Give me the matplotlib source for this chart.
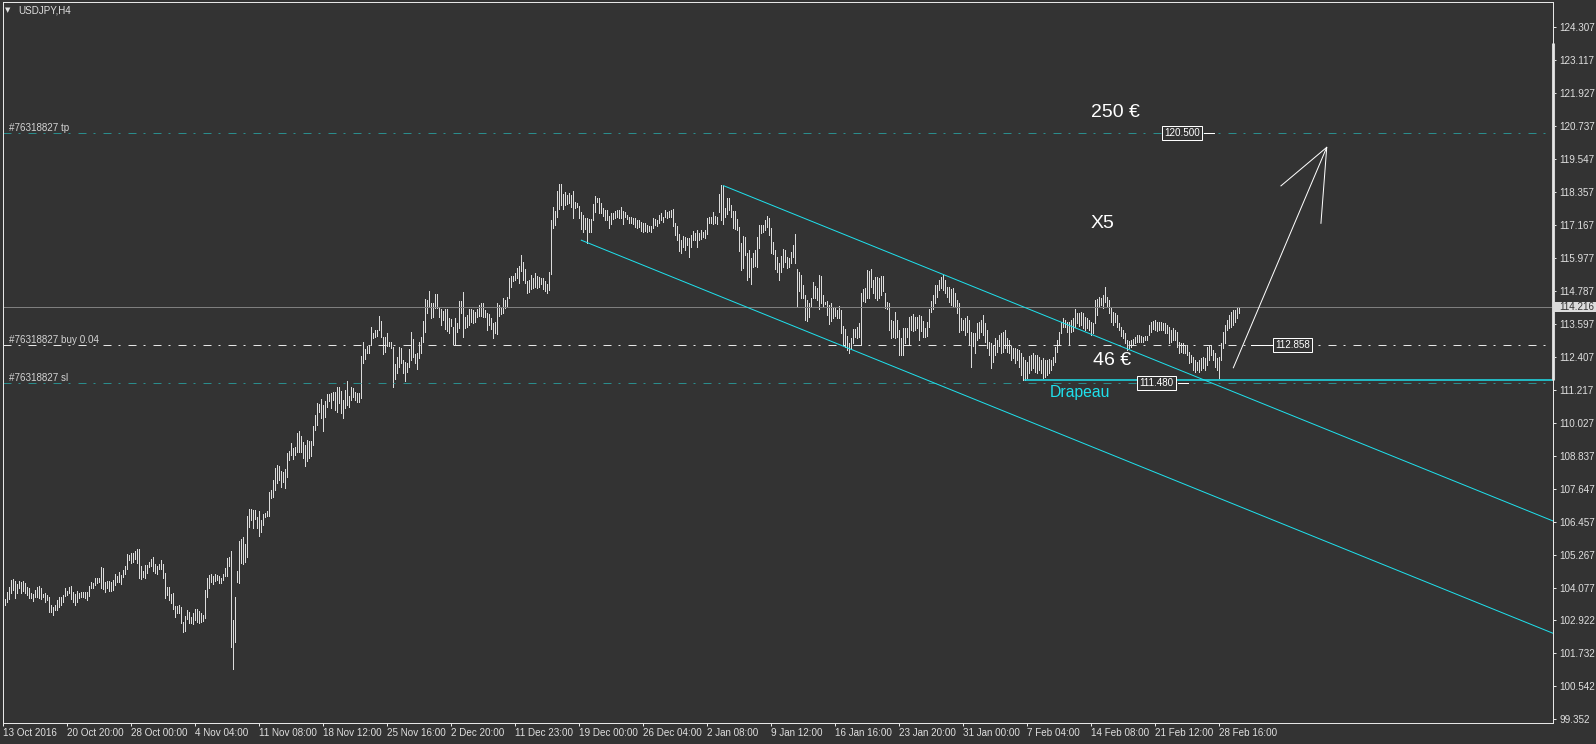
import matplotlib.pyplot as plt
import numpy as np
from matplotlib.patches import Rectangle
from matplotlib.transforms import blended_transform_factory

symbol = "USDJPY,H4"

# H4 bars, high / low
bar_high = [
    103.69, 103.69, 103.93, 104.13, 104.36, 104.41, 104.34, 104.23, 104.34, 104.29,
    104.34, 104.26, 104.11, 104.07, 103.89, 103.86, 104.01, 104.11, 104.16, 104.07,
    103.87, 103.89, 103.83, 103.75, 103.47, 103.41, 103.47, 103.65, 103.75, 103.77,
    103.83, 104.07, 103.99, 104.13, 104.16, 103.95, 103.86, 103.98, 103.89, 103.93,
    103.94, 103.95, 103.94, 104.16, 104.32, 104.28, 104.44, 104.45, 104.45, 104.83,
    104.80, 104.32, 104.34, 104.34, 104.29, 104.37, 104.58, 104.52, 104.65, 104.56,
    104.74, 104.88, 105.31, 105.28, 105.34, 105.36, 105.41, 105.48, 105.49, 104.89,
    104.71, 104.90, 104.92, 105.04, 105.12, 105.19, 104.94, 104.88, 104.95, 105.10,
    104.95, 104.62, 104.11, 104.13, 103.87, 103.92, 103.44, 103.44, 103.47, 103.39,
    102.87, 103.08, 103.29, 103.21, 103.03, 103.20, 103.32, 103.32, 103.27, 103.20,
    103.11, 104.01, 104.44, 104.56, 104.59, 104.52, 104.58, 104.56, 104.53, 104.44,
    104.59, 104.80, 105.16, 105.22, 105.43, 102.93, 103.75, 104.70, 105.78, 105.84,
    105.91, 105.67, 106.68, 106.92, 106.92, 106.90, 106.90, 106.66, 106.86, 106.54,
    106.76, 106.80, 106.86, 107.55, 107.62, 107.98, 108.40, 108.52, 108.50, 108.32,
    108.28, 108.38, 108.97, 109.03, 109.33, 109.12, 109.18, 109.69, 109.75, 109.57,
    109.36, 109.24, 109.42, 109.39, 109.39, 109.94, 110.33, 110.75, 110.72,
    110.89, 110.69, 110.84, 111.08, 111.08, 111.11, 111.17, 111.17, 111.35, 111.32,
    111.20, 110.87, 111.23, 111.56, 111.02, 111.35, 111.29, 111.17, 111.11, 111.11,
    112.45, 112.95, 112.71, 112.83, 112.85, 113.51, 113.30, 113.39, 113.39, 113.91,
    113.72, 113.15, 113.15, 113.30, 112.97, 112.97, 112.79, 112.17, 112.41, 112.79,
    112.73, 112.31, 112.25, 112.19, 112.71, 113.31, 113.07, 112.51, 112.55, 112.97,
    113.15, 113.72, 114.51, 114.47, 114.80, 114.35, 114.35, 114.69, 114.68, 114.20,
    114.15, 114.08, 114.14, 114.14, 113.81, 113.79, 113.51, 113.81, 113.66, 114.44,
    114.44, 114.76, 113.87, 113.93, 114.14, 114.15, 114.11, 114.05, 114.14, 114.29,
    114.35, 114.38, 114.11, 114.00, 113.96, 113.81, 113.63, 113.69, 114.35, 114.29,
    114.23, 114.56, 114.47, 114.59, 115.28, 115.34, 115.34, 115.46, 115.62, 115.71,
    116.10, 115.83, 115.59, 115.16, 115.19, 115.37, 115.28, 115.46, 115.34, 115.29,
    115.28, 115.25, 115.16, 115.05, 115.47, 117.36, 117.84, 117.69, 118.40, 118.64,
    118.64, 118.28, 118.38, 118.26, 118.34, 118.26, 118.40, 118.02, 117.96, 117.86,
    117.66, 117.54, 117.42, 117.42, 117.38, 117.39, 117.92, 118.22, 118.16, 118.14,
    117.96, 117.78, 117.72, 117.72, 117.50, 117.62, 117.62, 117.69, 117.72, 117.72,
    117.84, 117.68, 117.66, 117.54, 117.48,
    117.48, 117.42, 117.42, 117.36, 117.36, 117.30, 117.24, 117.24, 117.18, 117.14,
    117.14, 117.42, 117.38, 117.36, 117.54, 117.62, 117.48, 117.72, 117.66, 117.69,
    117.72, 117.74, 117.24, 117.14, 116.85, 116.64, 116.78, 116.76, 116.70, 116.72,
    116.82, 116.96, 116.88, 117.00, 116.90, 117.00, 116.94, 117.00, 117.44, 117.48,
    117.48, 117.66, 117.50, 117.48, 118.28, 118.62, 118.60, 117.78, 118.16, 118.14,
    117.90, 117.69, 117.69, 117.38, 117.12, 116.52, 116.78, 116.76, 116.16, 116.28,
    115.98, 116.16, 116.28, 116.73, 117.18, 117.18, 117.18, 117.36, 117.50, 117.42,
    117.06, 116.58, 116.28, 116.01, 115.80, 116.06, 116.31, 116.28, 116.01, 116.00,
    116.22, 116.46, 116.84, 115.59, 115.50, 115.37, 115.01, 114.65, 114.47, 114.38,
    114.56, 115.13, 114.98, 114.89, 115.37, 115.34, 114.65, 114.41, 114.44, 114.29,
    114.35, 114.21, 114.23, 114.11, 114.26, 114.11, 113.54, 113.42, 113.18, 112.91,
    113.09, 113.42, 113.42, 113.51, 113.63, 114.71, 114.87, 114.89, 115.56, 115.53,
    115.59, 115.19, 115.29, 115.31, 115.25, 115.34, 115.34, 114.74, 114.41, 114.38,
    113.75, 113.73, 114.05, 113.75, 113.39, 113.09, 113.45, 113.45, 113.45, 113.87,
    113.91, 113.96, 113.87, 113.87, 113.93, 113.90, 113.73, 113.45, 113.69, 114.14,
    114.44, 114.65, 115.01, 115.01, 115.19,
    115.31, 115.37, 115.19, 114.93, 114.95, 114.86, 114.92, 114.71, 114.47, 114.35,
    113.81, 113.75, 113.81, 113.90, 113.75, 113.33, 113.27, 113.27, 113.63, 113.69,
    113.75, 113.93, 113.63, 113.39, 112.97, 112.93, 112.85, 113.09, 113.03, 113.21,
    113.27, 113.33, 113.39, 113.09, 113.03, 112.81, 112.73, 112.73, 112.69, 112.67,
    112.55, 112.43, 112.31, 112.25, 112.45, 112.49, 112.55, 112.49, 112.49, 112.43,
    112.31, 112.37, 112.31, 112.31, 112.35, 112.31, 112.43, 112.79, 113.03, 113.33,
    113.69, 113.81, 113.75, 113.69, 113.69, 113.75, 113.81, 114.14, 113.99, 114.02,
    114.05, 113.99, 113.87, 113.81, 113.75, 113.69, 113.63, 114.47, 114.50, 114.59,
    114.53, 114.65, 114.95, 114.59, 114.47, 114.23, 114.05, 113.99, 113.93, 113.63,
    113.51, 113.39, 113.27, 113.03, 113.01, 113.03, 113.05, 113.15, 113.21, 113.21,
    113.17, 113.15, 113.17, 113.17, 113.57, 113.69, 113.73, 113.75, 113.69, 113.69,
    113.69, 113.63, 113.63, 113.57, 113.51, 113.39, 113.45, 113.39, 113.33, 112.97,
    112.91, 112.91, 112.85, 112.85, 112.61, 112.49, 112.43, 112.31, 112.25, 112.31,
    112.37, 112.43, 112.37, 112.79, 112.85, 112.85, 112.67, 112.55, 112.37, 112.43,
    112.91, 113.33, 113.57, 113.75, 113.93, 114.05, 114.11, 114.11, 114.17, 114.23,
]
bar_low = [
    103.27, 103.47, 103.57, 103.69, 103.92, 104.01, 103.74, 103.89, 104.07, 103.89,
    103.98, 103.89, 103.83, 103.74, 103.71, 103.63, 103.77, 103.77, 103.71, 103.68,
    103.75, 103.59, 103.65, 103.21, 103.21, 103.11, 103.29, 103.29, 103.41, 103.47,
    103.59, 103.80, 103.83, 103.89, 103.69, 103.59, 103.47, 103.59, 103.71, 103.75,
    103.77, 103.71, 103.65, 103.80, 104.07, 104.07, 104.20, 104.26, 104.32, 104.07,
    104.05, 103.95, 104.07, 103.99, 103.99, 104.01, 104.20, 104.32, 104.32, 104.23,
    104.50, 104.59, 104.76, 105.10, 105.00, 105.04, 105.12, 104.98, 104.44, 104.41,
    104.50, 104.46, 104.62, 104.83, 104.88, 104.71, 104.64, 104.59, 104.76, 104.76,
    104.46, 103.74, 103.83, 103.65, 103.56, 103.32, 103.03, 103.17, 103.20, 102.81,
    102.51, 102.55, 102.96, 102.84, 102.81, 102.78, 102.93, 102.86, 102.81, 102.87,
    102.91, 103.02, 103.77, 104.10, 104.32, 104.22, 104.35, 104.37, 104.26, 104.26,
    104.37, 104.53, 104.53, 104.88, 101.97, 101.15, 102.15, 104.29, 104.28, 104.98,
    104.94, 105.04, 105.22, 106.30, 106.54, 106.24, 106.56, 106.24, 105.97, 106.12,
    106.36, 106.64, 106.70, 106.68, 107.32, 107.36, 107.62, 107.89, 107.98, 107.74,
    107.92, 107.71, 108.10, 108.70, 108.88, 108.74, 108.88, 109.00, 109.00, 109.00,
    108.79, 108.50, 108.68, 108.76, 108.85, 109.24, 109.79, 109.97, 110.45,
    110.21, 109.76, 110.27, 110.60, 110.83, 110.57, 110.87, 110.51, 110.45, 110.75,
    110.41, 110.23, 110.57, 110.69, 110.63, 110.87, 110.99, 110.87, 110.81, 110.81,
    110.95, 112.21, 112.33, 112.55, 112.57, 112.85, 113.09, 113.15, 113.18, 113.39,
    113.15, 112.51, 112.61, 112.81, 112.81, 112.73, 111.32, 111.61, 111.83, 112.05,
    112.21, 111.83, 111.56, 111.86, 112.07, 112.31, 112.43, 112.19, 111.98, 112.37,
    112.57, 112.97, 113.33, 114.02, 114.23, 113.81, 113.87, 114.17, 114.20, 113.87,
    113.57, 113.75, 113.42, 113.36, 113.27, 113.54, 112.89, 112.89, 113.33, 113.45,
    113.99, 113.13, 113.45, 113.51, 113.57, 113.69, 113.63, 113.69, 113.87, 113.90,
    113.90, 113.87, 113.87, 113.39, 113.57, 113.42, 113.09, 113.27, 113.24, 113.90,
    113.96, 114.00, 114.20, 114.26, 114.53, 114.95, 115.16, 115.19, 115.25, 115.10,
    115.52, 115.19, 115.10, 114.71, 114.75, 114.87, 114.89, 114.93, 114.92, 114.93,
    115.05, 114.86, 114.81, 114.74, 114.83, 115.41, 117.08, 117.18, 117.48, 117.74,
    117.90, 117.74, 117.90, 117.92, 117.98, 117.84, 117.44, 117.78, 117.84, 117.42,
    117.03, 116.94, 117.02, 116.52, 116.94, 116.94, 117.36, 117.66, 118.02, 117.60,
    117.60, 117.51, 117.36, 117.36, 117.08, 117.21, 117.39, 117.44, 117.48, 117.42,
    117.42, 117.21, 117.48, 117.38, 117.24,
    117.26, 117.21, 117.12, 117.06, 117.12, 116.96, 116.94, 116.96, 116.94, 116.96,
    116.94, 117.06, 117.18, 117.15, 117.24, 117.36, 117.30, 117.48, 117.44, 117.48,
    117.48, 117.14, 116.82, 116.64, 116.25, 116.18, 116.37, 116.28, 116.46, 116.01,
    116.40, 116.64, 116.64, 116.37, 116.64, 116.67, 116.76, 116.72, 116.85, 117.26,
    117.24, 117.21, 117.24, 117.20, 117.66, 117.36, 117.20, 117.48, 117.56, 117.72,
    117.48, 117.06, 117.02, 117.00, 116.25, 115.56, 115.62, 116.10, 115.19, 115.31,
    115.04, 115.68, 115.70, 115.68, 116.34, 116.90, 116.91, 117.00, 117.12, 116.82,
    116.16, 116.12, 115.58, 115.50, 115.19, 115.50, 115.68, 115.86, 115.62, 115.68,
    115.80, 116.01, 115.82, 114.21, 114.81, 114.56, 114.53, 113.75, 113.73, 113.87,
    114.21, 114.53, 114.53, 114.47, 114.14, 114.38, 114.26, 114.32, 113.93, 113.60,
    113.73, 113.84, 113.91, 113.84, 113.81, 113.27, 112.85, 112.79, 112.67, 112.55,
    112.69, 112.91, 113.15, 113.09, 113.15, 112.85, 114.44, 114.41, 114.53, 114.53,
    114.93, 114.74, 114.53, 114.47, 114.53, 114.65, 114.81, 114.17, 114.14, 113.39,
    113.09, 113.15, 113.09, 113.15, 112.49, 112.49, 112.49, 112.91, 113.15, 112.89,
    113.39, 113.37, 113.39, 113.45, 113.03, 113.37, 113.15, 113.15, 113.18, 113.51,
    114.05, 114.14, 114.38, 114.57, 114.83,
    114.89, 114.83, 114.71, 114.59, 114.41, 114.29, 114.23, 114.23, 113.99, 113.33,
    113.39, 113.39, 113.21, 113.33, 112.85, 112.07, 112.81, 112.55, 113.03, 113.09,
    113.33, 113.21, 112.97, 112.73, 112.49, 112.01, 112.25, 112.49, 112.61, 112.81,
    112.55, 112.61, 112.73, 112.61, 112.55, 112.31, 112.37, 112.19, 112.31, 112.07,
    111.77, 111.59, 111.59, 111.65, 111.83, 111.95, 112.01, 111.89, 111.83, 111.95,
    111.83, 111.65, 111.68, 111.77, 111.83, 111.95, 112.13, 112.25, 112.61, 112.85,
    113.27, 113.51, 113.51, 113.33, 112.85, 113.33, 113.37, 113.51, 113.63, 113.54,
    113.57, 113.45, 113.39, 113.45, 113.39, 113.21, 113.27, 113.63, 113.93, 114.23,
    114.29, 114.17, 114.41, 114.23, 113.99, 113.69, 113.57, 113.69, 113.51, 113.39,
    113.17, 113.09, 112.91, 112.67, 112.73, 112.77, 112.85, 112.91, 112.97, 112.97,
    112.97, 112.97, 113.03, 113.03, 113.21, 113.33, 113.42, 113.39, 113.37, 113.39,
    113.39, 113.39, 113.27, 113.27, 112.91, 112.97, 113.03, 113.03, 112.79, 112.55,
    112.61, 112.55, 112.55, 112.49, 112.19, 112.25, 111.95, 111.89, 111.95, 111.89,
    111.95, 112.01, 111.95, 112.13, 112.31, 112.49, 112.31, 112.07, 111.95, 111.65,
    112.31, 112.73, 112.91, 113.39, 113.45, 113.51, 113.57, 113.69, 113.81, 113.99,
]

time_labels = ["13 Oct 2016", "20 Oct 20:00", "28 Oct 00:00", "4 Nov 04:00",
               "11 Nov 08:00", "18 Nov 12:00", "25 Nov 16:00", "2 Dec 20:00",
               "11 Dec 23:00", "19 Dec 00:00", "26 Dec 04:00", "2 Jan 08:00",
               "9 Jan 12:00", "16 Jan 16:00", "23 Jan 20:00", "31 Jan 00:00",
               "7 Feb 04:00", "14 Feb 08:00", "21 Feb 12:00", "28 Feb 16:00"]
bars_per_label = 32
price_ticks = [124.307, 123.117, 121.927, 120.737, 119.547, 118.357, 117.167,
               115.977, 114.787, 113.597, 112.407, 111.217, 110.027, 108.837,
               107.647, 106.457, 105.267, 104.077, 102.922, 101.732, 100.542, 99.352]

order_id = "#76318827"
tp_price = 120.500
buy_price = 112.858
buy_lots = 0.04
sl_price = 111.480
last_price = 114.216

# drawn objects (bar index, price)
upper_x, upper_y = [360, 775], [118.60, 106.50]
lower_x, lower_y = [289, 775], [116.63, 102.45]
flag_x, flag_y = [511, 775], [111.59, 111.59]
arrow_x, arrow_y = [615.0, 661.7], [112.03, 119.98]
head_x, head_y = [638.8, 661.7, 658.8], [118.59, 119.98, 117.24]

bg = "#333333"
cyan = "#1FE0EC"
teal = "#2A8C8C"
fs = 7.1
plt.rcParams["font.family"] = ["Liberation Sans", "DejaVu Sans"]

fig = plt.figure(figsize=(15.96, 7.44), dpi=100, facecolor=bg)
ax = fig.add_axes([2.5 / 1596, 21.3 / 744, 1550.8 / 1596, 720.4 / 744])
ax.set_facecolor(bg)

idx = np.arange(len(bar_high))
ax.vlines(idx, bar_low, bar_high, colors="#DCDCDC", linewidth=0.72, antialiased=False)

ax.set_xlim(-0.415, 774.98)
ax.set_ylim(99.23, 125.21)

dash = (0, (8, 7, 2, 8))
ax.axhline(last_price, color="#7F7F7F", lw=0.72)
ax.axhline(tp_price, color=teal, lw=0.72, ls=dash)
ax.axhline(buy_price, color="#E6E6E6", lw=0.72, ls=dash)
ax.axhline(sl_price, color=teal, lw=0.72, ls=dash)

ax.plot(upper_x, upper_y, color=cyan, lw=0.72)
ax.plot(lower_x, lower_y, color=cyan, lw=0.72)
ax.plot(flag_x, flag_y, color=cyan, lw=1.1)
ax.plot(arrow_x, arrow_y, color="white", lw=0.72)
ax.plot(head_x, head_y, color="white", lw=0.72)

trans = blended_transform_factory(ax.transAxes, ax.transData)
for txt, price in [(f"{order_id} tp", tp_price),
                   (f"{order_id} buy {buy_lots:.2f}", buy_price),
                   (f"{order_id} sl", sl_price)]:
    ax.annotate(txt, xy=(0, price), xycoords=trans, xytext=(4.7, 1.5),
                textcoords="offset points", fontsize=fs, color="#D4D4D4",
                va="baseline")

box = dict(boxstyle="square,pad=0.22", fc=bg, ec="white", lw=0.72)
ax.text(589.3, tp_price, f"{tp_price:.3f}", ha="center", va="center", fontsize=fs,
        color="white", bbox=box)
ax.plot([600.3, 605.3], [tp_price, tp_price], color="white", lw=0.72)
ax.text(576.6, sl_price, f"{sl_price:.3f}", ha="center", va="center", fontsize=fs,
        color="white", bbox=box)
ax.plot([587.3, 592.3], [sl_price, sl_price], color="white", lw=0.72)
ax.text(644.8, buy_price, f"{buy_price:.3f}", ha="center", va="center", fontsize=fs,
        color="white", bbox=box)
ax.plot([623.8, 634.3], [buy_price, buy_price], color="white", lw=0.72)

ax.text(543.8, 121.07, "250 €", color="white", fontsize=14, va="baseline")
ax.text(543.8, 117.07, "X5", color="white", fontsize=14, va="baseline")
ax.text(544.7, 112.13, "46 €", color="white", fontsize=14, va="baseline")
ax.text(523.3, 110.99, "Drapeau", color=cyan, fontsize=11.3, va="baseline")

# price axis
ax.yaxis.tick_right()
ax.set_yticks(price_ticks)
ax.set_yticklabels([f"{p:.3f}" for p in price_ticks])
ax.tick_params(axis="y", colors="#E6E6E6", labelcolor="#E0E0E0", length=2.2,
               width=0.72, pad=2.0, labelsize=fs)
ax.plot([774.98, 774.98], [123.73, 111.59], color="#D3D3D3", lw=2.2,
        solid_capstyle="butt", clip_on=False)
ax.add_patch(Rectangle((1.0, last_price - 0.19), 0.03, 0.38, transform=trans,
                       fc="#DCDCDC", ec="none", clip_on=False, zorder=5))
ax.text(1.004, last_price, f"{last_price:.3f}", transform=trans, ha="left",
        va="center", fontsize=fs, color="#333333", clip_on=False, zorder=6)

# time axis
ax.set_xticks(np.arange(len(time_labels)) * bars_per_label)
ax.set_xticklabels(time_labels)
ax.tick_params(axis="x", colors="#E6E6E6", labelcolor="#E0E0E0", length=2.5,
               width=0.72, pad=1.5, labelsize=fs)
for lbl in ax.get_xticklabels():
    lbl.set_ha("left")

for s in ax.spines.values():
    s.set_color("#E6E6E6")
    s.set_linewidth(0.72)

fig.text(8 / 1596, 1 - 10 / 744, "▼", fontsize=5, color="#E0E0E0", ha="center",
         va="center", family="DejaVu Sans")
fig.text(18 / 1596, 1 - 10.5 / 744, symbol, fontsize=fs, color="#E0E0E0", va="center")

fig.savefig("out.png", dpi=100, facecolor=bg)
